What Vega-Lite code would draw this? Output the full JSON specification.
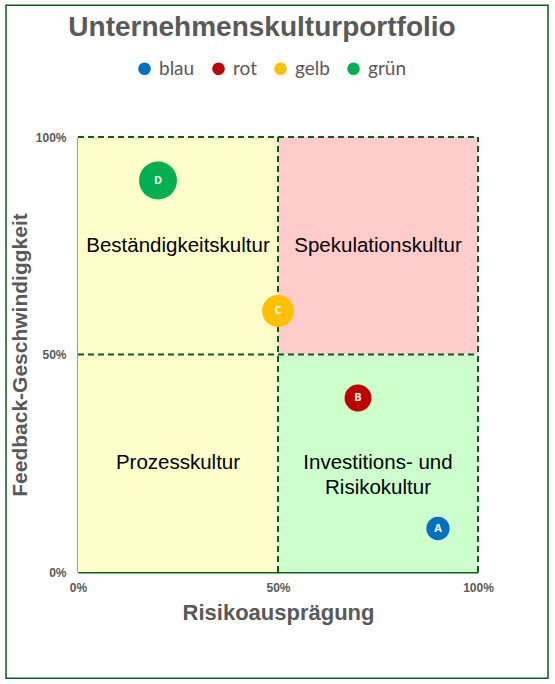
{
  "$schema": "https://vega.github.io/schema/vega-lite/v6.json",
  "autosize": "none",
  "width": 400,
  "height": 435,
  "padding": {"left": 78, "top": 137, "right": 77, "bottom": 112},
  "background": "white",
  "title": {
    "text": "Unternehmenskulturportfolio",
    "font": "Liberation Sans",
    "fontSize": 28,
    "fontWeight": "bold",
    "color": "#595959",
    "anchor": "middle",
    "dx": -16,
    "offset": 0,
    "dy": 38
  },
  "config": {
    "view": {"stroke": null},
    "axis": {
      "labelFont": "Liberation Sans",
      "labelFontWeight": "bold",
      "labelFontSize": 12,
      "labelColor": "#595959",
      "labelFlush": false,
      "titleFont": "Liberation Sans",
      "titleFontWeight": "bold",
      "titleColor": "#595959",
      "domainColor": "#0D5C1B",
      "domainWidth": 2,
      "ticks": false,
      "grid": false
    }
  },
  "datasets": {
    "rahmen": [{"x": -0.18, "x2": 1.175, "y": -0.244, "y2": 1.303}],
    "quadranten": [
      {"Name": "Beständigkeitskultur", "x": 0, "x2": 0.5, "y": 0.5, "y2": 1, "xm": 0.25, "ym": 0.75},
      {"Name": "Spekulationskultur", "x": 0.5, "x2": 1, "y": 0.5, "y2": 1, "xm": 0.75, "ym": 0.75},
      {"Name": "Prozesskultur", "x": 0, "x2": 0.5, "y": 0, "y2": 0.5, "xm": 0.25, "ym": 0.25},
      {"Name": "Investitions- und\nRisikokultur", "x": 0.5, "x2": 1, "y": 0, "y2": 0.5, "xm": 0.75, "ym": 0.25}
    ],
    "linien": [
      {"x": 0, "x2": 1, "y": 1, "y2": 1},
      {"x": 1, "x2": 1, "y": 0, "y2": 1},
      {"x": 0.5, "x2": 0.5, "y": 0, "y2": 1},
      {"x": 0, "x2": 1, "y": 0.5, "y2": 0.5}
    ],
    "kulturen": [
      {"Kultur": "A", "Farbe": "blau", "Risiko": 0.9, "Feedback": 0.1, "Gewicht": 15},
      {"Kultur": "B", "Farbe": "rot", "Risiko": 0.7, "Feedback": 0.4, "Gewicht": 20},
      {"Kultur": "C", "Farbe": "gelb", "Risiko": 0.5, "Feedback": 0.6, "Gewicht": 28},
      {"Kultur": "D", "Farbe": "grün", "Risiko": 0.2, "Feedback": 0.9, "Gewicht": 40}
    ]
  },
  "layer": [
    {
      "data": {"name": "rahmen"},
      "mark": {"type": "rect", "fill": null, "stroke": "#0D5C1B", "strokeWidth": 1.5, "clip": false},
      "encoding": {
        "x": {
          "field": "x",
          "type": "quantitative",
          "scale": {"domain": [0, 1], "nice": false},
          "title": "Risikoausprägung",
          "axis": {"values": [0, 0.5, 1], "format": ".0%", "labelPadding": 10, "titlePadding": 9, "titleFontSize": 22}
        },
        "x2": {"field": "x2"},
        "y": {
          "field": "y",
          "type": "quantitative",
          "scale": {"domain": [0, 1], "nice": false},
          "title": "Feedback-Geschwindiggkeit",
          "axis": {"values": [0, 0.5, 1], "format": ".0%", "labelPadding": 12, "titlePadding": 5, "titleFontSize": 21}
        },
        "y2": {"field": "y2"}
      }
    },
    {
      "data": {"name": "quadranten"},
      "mark": {"type": "rect"},
      "encoding": {
        "x": {"field": "x", "type": "quantitative"},
        "x2": {"field": "x2"},
        "y": {"field": "y", "type": "quantitative"},
        "y2": {"field": "y2"},
        "fill": {
          "field": "Name",
          "type": "nominal",
          "scale": {
            "domain": ["Beständigkeitskultur", "Spekulationskultur", "Prozesskultur", "Investitions- und\nRisikokultur"],
            "range": ["#FFFFCC", "#FFCCCC", "#FFFFCC", "#CCFFCC"]
          },
          "legend": null
        }
      }
    },
    {
      "data": {"name": "linien"},
      "mark": {"type": "rule", "color": "#0D5C1B", "strokeWidth": 2, "strokeDash": [6, 4]},
      "encoding": {
        "x": {"field": "x", "type": "quantitative"},
        "x2": {"field": "x2"},
        "y": {"field": "y", "type": "quantitative"},
        "y2": {"field": "y2"}
      }
    },
    {
      "data": {"name": "quadranten"},
      "mark": {"type": "text", "font": "Liberation Sans", "fontSize": 20.5, "color": "#000000", "lineBreak": "\n", "lineHeight": 25, "align": "center", "baseline": "middle"},
      "encoding": {
        "x": {"field": "xm", "type": "quantitative"},
        "y": {"field": "ym", "type": "quantitative"},
        "text": {"field": "Name"}
      }
    },
    {
      "data": {"name": "kulturen"},
      "mark": {"type": "point", "shape": "circle", "filled": true, "opacity": 1},
      "encoding": {
        "x": {"field": "Risiko", "type": "quantitative"},
        "y": {"field": "Feedback", "type": "quantitative"},
        "size": {"field": "Gewicht", "type": "quantitative", "scale": {"domain": [0, 40], "range": [0, 1444]}, "legend": null},
        "color": {
          "field": "Farbe",
          "type": "nominal",
          "scale": {"domain": ["blau", "rot", "gelb", "grün"], "range": ["#0070C0", "#C00000", "#FFC000", "#00B050"]},
          "legend": {
            "title": null,
            "orient": "none",
            "direction": "horizontal",
            "legendX": 57,
            "legendY": -78,
            "symbolType": "circle",
            "symbolSize": 160,
            "symbolOpacity": 1,
            "labelFont": "Lato",
            "labelFontSize": 19,
            "labelColor": "#595959",
            "labelOffset": 5,
            "columnPadding": 14
          }
        }
      }
    },
    {
      "data": {"name": "kulturen"},
      "mark": {"type": "text", "font": "Open Sans", "fontWeight": "bold", "fontSize": 11, "color": "white", "baseline": "middle"},
      "encoding": {
        "x": {"field": "Risiko", "type": "quantitative"},
        "y": {"field": "Feedback", "type": "quantitative"},
        "text": {"field": "Kultur"}
      }
    }
  ]
}
